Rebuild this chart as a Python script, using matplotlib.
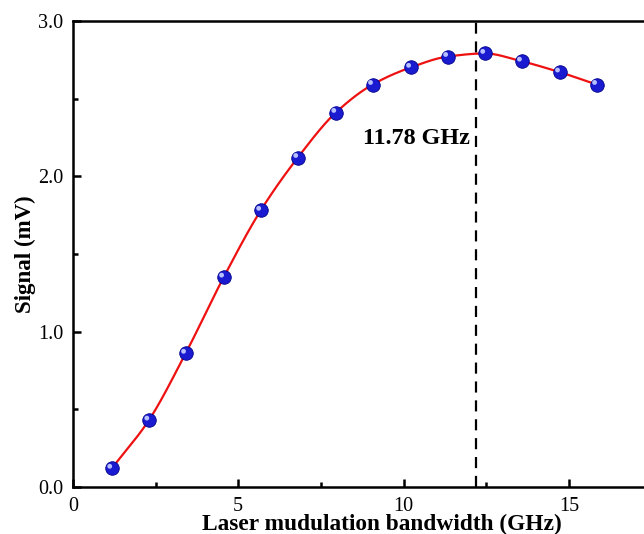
import numpy as np
import matplotlib
matplotlib.use("Agg")
import matplotlib.pyplot as plt
import matplotlib.transforms as mtransforms

bandwidth = [1.18, 2.30, 3.41, 4.56, 5.68, 6.80, 7.95, 9.06, 10.21, 11.33, 12.45, 13.56, 14.71, 15.83]
signal = [0.12, 0.43, 0.86, 1.35, 1.78, 2.12, 2.41, 2.59, 2.70, 2.77, 2.79, 2.74, 2.67, 2.59]
peak_bw = 12.17
peak_label = "11.78 GHz"
xticks = [0, 5, 10, 15]
yticks = [0.0, 1.0, 2.0, 3.0]

plt.rcParams['font.family'] = ['Liberation Serif', 'DejaVu Serif']

def pchip(x, y, n=600):
    x = np.asarray(x, float); y = np.asarray(y, float)
    h = np.diff(x); delta = np.diff(y) / h
    k = len(x); d = np.zeros(k)
    for i in range(1, k - 1):
        if delta[i - 1] * delta[i] > 0:
            w1 = 2 * h[i] + h[i - 1]; w2 = h[i] + 2 * h[i - 1]
            d[i] = (w1 + w2) / (w1 / delta[i - 1] + w2 / delta[i])
    d[0] = delta[0]; d[-1] = delta[-1]
    xs = np.linspace(x[0], x[-1], n)
    idx = np.clip(np.searchsorted(x, xs) - 1, 0, k - 2)
    t = (xs - x[idx]) / h[idx]
    h00 = 2 * t**3 - 3 * t**2 + 1; h10 = t**3 - 2 * t**2 + t
    h01 = -2 * t**3 + 3 * t**2; h11 = t**3 - t**2
    ys = h00 * y[idx] + h10 * h[idx] * d[idx] + h01 * y[idx + 1] + h11 * h[idx] * d[idx + 1]
    return xs, ys

fig = plt.figure(figsize=(6.44, 5.34), dpi=100)
ax = fig.add_axes([0.113, 0.088, 0.925, 0.873])

xs, ys = pchip(bandwidth, signal)
ax.plot(xs, ys, color='#ee1111', lw=1.6, zorder=2)
ax.scatter(bandwidth, signal, s=95, color='#1a1ad0', edgecolors='#00008a', linewidths=0.6, zorder=3)
off = mtransforms.ScaledTranslation(-1.5 / 72, 1.5 / 72, fig.dpi_scale_trans)
ax.scatter(bandwidth, signal, s=12, color='#b8c0ff', edgecolors='none', zorder=4,
           transform=ax.transData + off)

ax.axvline(peak_bw, color='black', lw=1.6, dashes=(5, 3.5), zorder=1)
ax.text(peak_bw - 0.18, 2.24, peak_label, ha='right', va='center', fontsize=17.4, fontweight='bold')

ax.set_xlim(0, 18)
ax.set_ylim(0, 3.0)
ax.set_xticks(xticks)
ax.set_xticks([2.5, 7.5, 12.5], minor=True)
ax.set_yticks(yticks)
ax.set_yticks([0.5, 1.5, 2.5], minor=True)
ax.set_yticklabels([f"{v:.1f}" for v in yticks])
ax.tick_params(which='both', direction='in', width=1.8, labelsize=14.5)
ax.tick_params(which='major', length=6)
ax.tick_params(which='minor', length=3.5)
ax.tick_params(axis='y', which='major', pad=7)
ax.tick_params(axis='x', which='major', pad=7)
for s in ax.spines.values():
    s.set_linewidth(1.8)

fig.text(382 / 644, 4 / 534, "Laser mudulation bandwidth (GHz)", ha='center', va='baseline',
         fontsize=16.8, fontweight='bold')
ax.set_ylabel("Signal (mV)", fontsize=16.5, fontweight='bold', labelpad=1.5)

fig.savefig("out.png", dpi=100)
